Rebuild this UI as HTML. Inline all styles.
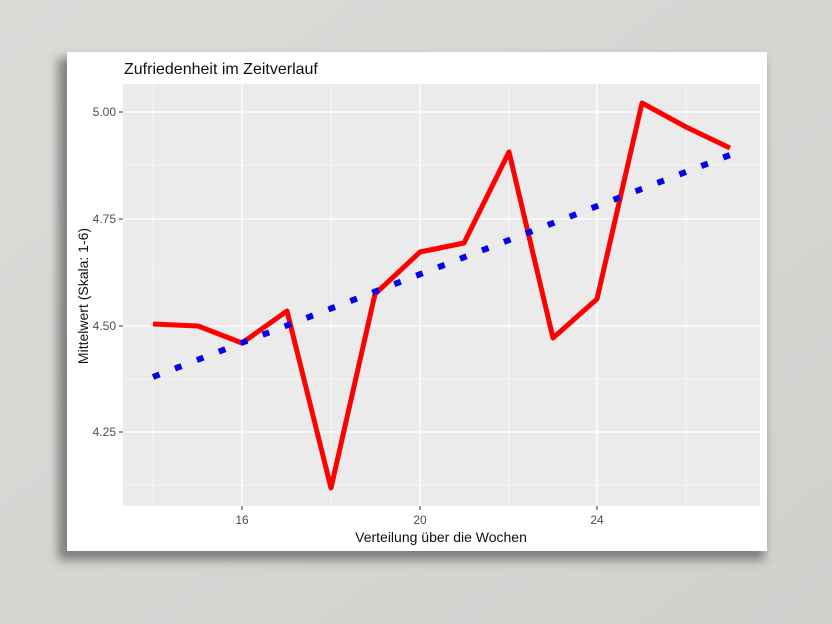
<!DOCTYPE html>
<html><head><meta charset="utf-8"><style>
html,body{margin:0;padding:0;width:832px;height:624px;overflow:hidden;background:#d9d7d4;}
</style></head><body>
<svg width="832" height="624" viewBox="0 0 832 624" xmlns="http://www.w3.org/2000/svg" font-family="Liberation Sans, sans-serif">
<defs>
<filter id="sh" x="-10%" y="-10%" width="120%" height="120%"><feGaussianBlur stdDeviation="5"/></filter>
<linearGradient id="bg" x1="0" y1="0" x2="1" y2="1"><stop offset="0" stop-color="#dddbd8"/><stop offset="1" stop-color="#d2d0cd"/></linearGradient>
</defs>
<rect width="832" height="624" fill="url(#bg)"/>
<rect x="58" y="58" width="706" height="502" fill="#444" opacity="0.6" filter="url(#sh)"/>
<rect x="67" y="52" width="700" height="499" fill="#fff"/>
<rect x="123" y="84" width="637" height="422" fill="#ebebeb"/>
<g stroke="#fff" stroke-width="0.6">
<line x1="123" x2="760" y1="165" y2="165"/><line x1="123" x2="760" y1="272" y2="272"/><line x1="123" x2="760" y1="379" y2="379"/><line x1="123" x2="760" y1="485" y2="485"/>
<line x1="153" x2="153" y1="84" y2="506"/><line x1="331" x2="331" y1="84" y2="506"/><line x1="509" x2="509" y1="84" y2="506"/><line x1="686" x2="686" y1="84" y2="506"/>
</g>
<g stroke="#fff" stroke-width="1.3">
<line x1="123" x2="760" y1="112" y2="112"/><line x1="123" x2="760" y1="219" y2="219"/><line x1="123" x2="760" y1="326" y2="326"/><line x1="123" x2="760" y1="432" y2="432"/>
<line x1="242" x2="242" y1="84" y2="506"/><line x1="420" x2="420" y1="84" y2="506"/><line x1="597" x2="597" y1="84" y2="506"/>
</g>
<g stroke="#333" stroke-width="1">
<line x1="119" x2="123" y1="112" y2="112"/><line x1="119" x2="123" y1="219" y2="219"/><line x1="119" x2="123" y1="326" y2="326"/><line x1="119" x2="123" y1="432" y2="432"/>
<line x1="242" x2="242" y1="506" y2="510"/><line x1="420" x2="420" y1="506" y2="510"/><line x1="597" x2="597" y1="506" y2="510"/>
</g>
<g fill="#4d4d4d" font-size="12" text-anchor="end">
<text x="116" y="116">5.00</text><text x="116" y="223">4.75</text><text x="116" y="330">4.50</text><text x="116" y="436">4.25</text>
</g>
<g fill="#4d4d4d" font-size="12" text-anchor="middle">
<text x="242" y="524">16</text><text x="420" y="524">20</text><text x="597" y="524">24</text>
</g>
<text x="441" y="542" font-size="14" text-anchor="middle" fill="#111">Verteilung über die Wochen</text>
<text transform="translate(88,296) rotate(-90)" font-size="14" text-anchor="middle" fill="#111">Mittelwert (Skala: 1-6)</text>
<text x="124" y="74" font-size="16" fill="#111">Zufriedenheit im Zeitverlauf</text>
<polyline fill="none" stroke="#ff0000" stroke-width="5" stroke-linejoin="round" points="153,324 198,326 242,343 287,311 331,488 375,294 420,252 464,243 509,152 553,338 597,299 642,103 686,127 730,148"/>
<line x1="153" y1="377" x2="730" y2="155" stroke="#0000ee" stroke-width="6" stroke-dasharray="7,16.5"/>
</svg>
</body></html>
